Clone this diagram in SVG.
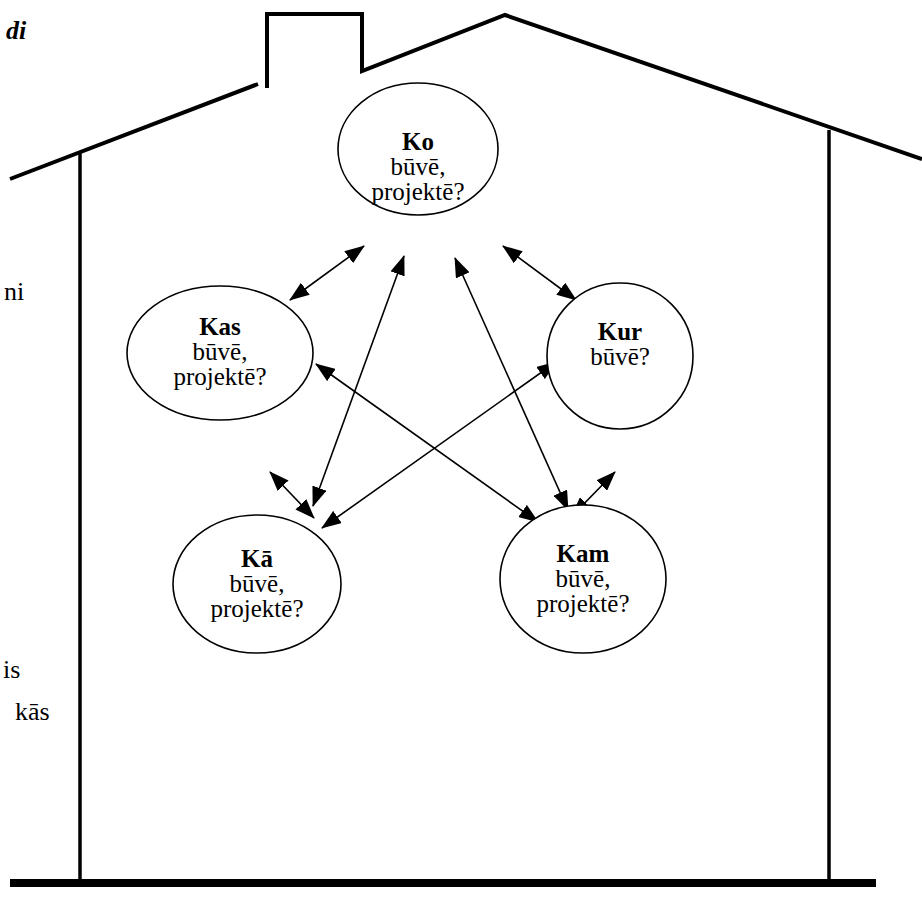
<svg xmlns="http://www.w3.org/2000/svg" width="922" height="898" viewBox="0 0 922 898">
  <style>
    .house { fill: none; stroke: #000; stroke-width: 4; stroke-linejoin: miter; }
    .wall { stroke: #000; stroke-width: 3.5; }
    .node ellipse { fill: #fff; stroke: #000; stroke-width: 1.6; }
    .node text { font-family: "Liberation Serif", "Times New Roman", serif; font-size: 25px; text-anchor: middle; fill: #000; }
    .node text.b { font-weight: bold; }
    .side { font-family: "Liberation Serif", "Times New Roman", serif; font-size: 26px; fill: #000; }
    .conn line { stroke: #000; stroke-width: 1.6; marker-start: url(#ah); marker-end: url(#ah); }
  </style>
  <defs>
    <marker id="ah" viewBox="0 0 20 15" refX="19" refY="7.5" markerWidth="20" markerHeight="15" markerUnits="userSpaceOnUse" orient="auto-start-reverse">
      <path d="M0,0 L20,7.5 L0,15 z" fill="#000"/>
    </marker>
  </defs>
  <rect width="922" height="898" fill="#fff"/>

  <!-- house outline -->
  <g id="house">
    <line class="house" x1="10" y1="179" x2="258" y2="84"/>
    <polyline class="house" points="267,88 267,14 362,14 362,71 505,15 922,159"/>
    <line class="wall" x1="80" y1="153" x2="80" y2="882"/>
    <line class="wall" x1="829" y1="130" x2="829" y2="882"/>
    <rect x="10" y="879" width="866" height="8" fill="#000"/>
  </g>

  <!-- text fragments along the left margin -->
  <g id="margin-text">
    <text class="side" x="6" y="39" font-weight="bold" font-style="italic">di</text>
    <text class="side" x="4" y="300">ni</text>
    <text class="side" x="3" y="678">is</text>
    <text class="side" x="15" y="720">kās</text>
  </g>

  <!-- connectors -->
  <g id="connectors" class="conn">
    <line x1="364" y1="246" x2="290" y2="300"/>
    <line x1="503" y1="246" x2="576" y2="300"/>
    <line x1="404" y1="256" x2="313" y2="506"/>
    <line x1="455" y1="258" x2="568" y2="510"/>
    <line x1="316" y1="364" x2="538" y2="522"/>
    <line x1="556" y1="362" x2="322" y2="528"/>
    <line x1="270" y1="472" x2="314" y2="518"/>
    <line x1="615" y1="472" x2="572" y2="516"/>
  </g>

  <g id="node-ko" class="node">
    <ellipse cx="418" cy="149" rx="80" ry="66"/>
    <text class="b" x="418" y="150">Ko</text>
    <text x="418" y="175">būvē,</text>
    <text x="418" y="200">projektē?</text>
  </g>
  <g id="node-kas" class="node">
    <ellipse cx="220" cy="353" rx="93" ry="67"/>
    <text class="b" x="220" y="335">Kas</text>
    <text x="220" y="360">būvē,</text>
    <text x="220" y="385">projektē?</text>
  </g>
  <g id="node-kur" class="node">
    <ellipse cx="620" cy="356" rx="73" ry="73"/>
    <text class="b" x="620" y="340">Kur</text>
    <text x="620" y="365">būvē?</text>
  </g>
  <g id="node-ka" class="node">
    <ellipse cx="257" cy="584" rx="84" ry="69"/>
    <text class="b" x="257" y="567">Kā</text>
    <text x="257" y="592">būvē,</text>
    <text x="257" y="617">projektē?</text>
  </g>
  <g id="node-kam" class="node">
    <ellipse cx="583" cy="579" rx="83" ry="74"/>
    <text class="b" x="583" y="562">Kam</text>
    <text x="583" y="587">būvē,</text>
    <text x="583" y="612">projektē?</text>
  </g>
</svg>
